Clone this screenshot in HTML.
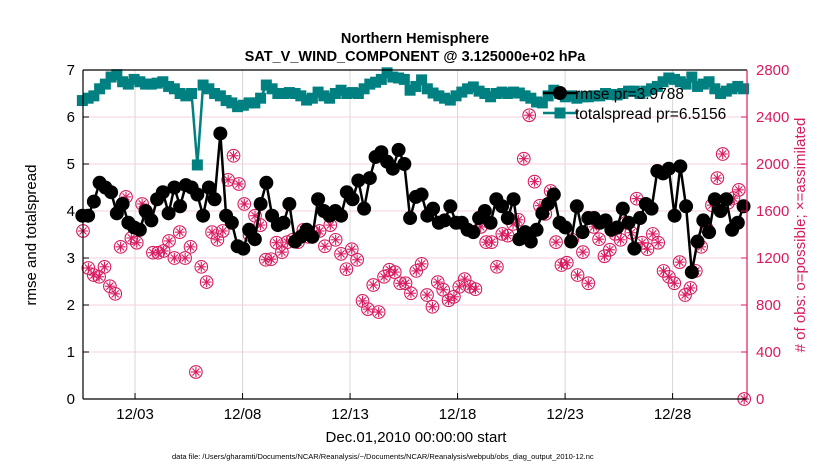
<!DOCTYPE html>
<html><head><meta charset="utf-8"><style>
body{margin:0;background:#fff;}
svg text{font-family:"Liberation Sans",sans-serif;}
</style></head><body>
<svg id="chart" width="830" height="470" viewBox="0 0 830 470" xmlns="http://www.w3.org/2000/svg">
<rect width="830" height="470" fill="#fff"/>
<g id="grid"></g><g id="series"></g><g id="axes"></g>
<text x="415" y="43" text-anchor="middle" font-size="14.5" font-weight="bold">Northern Hemisphere</text>
<text x="415" y="61" text-anchor="middle" font-size="14.5" font-weight="bold">SAT_V_WIND_COMPONENT @ 3.125000e+02 hPa</text>
<text x="416" y="442" text-anchor="middle" font-size="15">Dec.01,2010 00:00:00 start</text>
<text transform="translate(36,235) rotate(-90)" text-anchor="middle" font-size="15">rmse and totalspread</text>
<text transform="translate(805,235) rotate(-90)" text-anchor="middle" font-size="15" fill="#d81b60">#  of obs: o=possible; ×=assimilated</text>
<text x="172" y="459" font-size="7.5">data file: /Users/gharamti/Documents/NCAR/Reanalysis/~/Documents/NCAR/Reanalysis/webpub/obs_diag_output_2010-12.nc</text>
<g id="legend"></g>
</svg>
<script>
const xTickLabels=["12/03","12/08","12/13","12/18","12/23","12/28"];
const xTickDays=[2,7,12,17,22,27];
const yLeftTicks=[0,1,2,3,4,5,6,7];
const yRightTicks=[0,400,800,1200,1600,2000,2400,2800];
const rmse=[3.9,3.9,4.2,4.6,4.5,4.4,3.95,4.15,3.75,3.65,3.6,4.0,3.8,4.25,4.4,3.95,4.5,4.1,4.55,4.5,4.35,3.9,4.5,4.25,5.65,3.9,3.75,3.25,3.2,3.6,3.4,4.15,4.6,3.9,3.7,3.75,4.15,3.35,3.45,3.6,3.45,4.25,4.0,3.9,4.0,3.9,4.4,4.25,4.65,4.05,4.7,5.15,5.25,5.05,4.9,5.3,5.0,3.85,4.3,4.35,3.9,4.05,3.75,3.8,4.1,3.75,3.75,3.6,3.55,3.85,4.0,3.75,4.25,4.1,3.85,4.25,3.4,3.55,3.35,3.6,3.95,4.15,4.35,3.75,3.65,3.35,4.1,3.55,3.85,3.85,3.75,3.8,3.6,3.65,4.05,3.75,3.2,3.85,4.15,4.05,4.85,4.8,4.9,3.9,4.95,4.1,2.7,3.35,3.8,3.55,4.25,4.0,4.25,3.6,3.75,4.1];
const totalspread=[6.35,6.4,6.45,6.6,6.7,6.85,6.9,6.75,6.7,6.8,6.75,6.7,6.7,6.72,6.75,6.65,6.6,6.5,6.45,6.5,4.98,6.68,6.6,6.5,6.45,6.35,6.3,6.22,6.25,6.3,6.3,6.4,6.68,6.6,6.5,6.5,6.52,6.5,6.45,6.36,6.4,6.53,6.45,6.4,6.5,6.57,6.5,6.52,6.5,6.6,6.7,6.74,6.8,6.94,6.85,6.83,6.8,6.57,6.65,6.79,6.6,6.51,6.45,6.4,6.36,6.45,6.53,6.6,6.64,6.55,6.5,6.43,6.5,6.53,6.5,6.53,6.51,6.45,6.4,6.32,6.3,6.45,6.57,6.5,6.43,6.45,6.4,6.43,6.43,6.45,6.45,6.5,6.48,6.47,6.5,6.55,6.55,6.5,6.55,6.6,6.65,6.75,6.83,6.8,6.75,6.7,6.85,6.65,6.7,6.75,6.6,6.5,6.55,6.6,6.65,6.6];
const obsCount=[1430,1115,1055,1040,1125,960,895,1295,1720,1370,1330,1660,1575,1245,1245,1260,1345,1200,1420,1200,1295,230,1125,995,1420,1355,1430,1865,2070,1830,1660,1395,1560,1480,1185,1190,1330,1250,1335,1355,1335,1440,1380,1415,1430,1300,1480,1355,1235,1105,1275,1185,835,765,970,740,1040,1100,1080,985,985,900,1090,1150,885,785,995,930,840,870,955,1020,955,935,1465,1335,1335,1125,1405,1390,1490,1525,2045,2415,1850,1645,1575,1770,1335,1140,1160,1355,1055,1250,985,1465,1360,1215,1270,1405,1355,1500,1415,1705,1330,1275,1405,1330,1090,1040,985,1165,885,945,1090,1295,1455,1650,1880,2085,1670,1710,1780,0];

const NS="http://www.w3.org/2000/svg";
const L=83,R=747,T=70,B=399,DMIN=-0.42,DMAX=30.46;
const xs=d=>L+(d-DMIN)/(DMAX-DMIN)*(R-L);
const yl=v=>B-v/7*(B-T);
const yr=v=>B-v/2800*(B-T);
function mk(tag,attrs,parent){const e=document.createElementNS(NS,tag);for(const k in attrs)e.setAttribute(k,attrs[k]);parent.appendChild(e);return e;}
const grid=document.getElementById('grid'),ser=document.getElementById('series'),ax=document.getElementById('axes'),leg=document.getElementById('legend');
xTickDays.forEach((d,i)=>{
 const g=mk('line',{x1:xs(d),x2:xs(d),y1:T,y2:B,stroke:'#d8d8d8','stroke-width':1},grid);
 
 
 const t=mk('line',{x1:xs(d),x2:xs(d),y1:B,y2:B-6,stroke:'#000'},ax);
 
 
 const lb=mk('text',{x:xs(d),y:B+20,'text-anchor':'middle','font-size':15},ax);lb.textContent=xTickLabels[i];
 
 
});
yRightTicks.forEach(v=>{
 if(v>0&&v<2800){const g=mk('line',{x1:L,x2:R,y1:yr(v),y2:yr(v),stroke:'#f4cfe0','stroke-width':1},grid);
 
 }
 const t=mk('line',{x1:R,x2:R-6,y1:yr(v),y2:yr(v),stroke:'#d81b60'},ax);
 
 
 const lb=mk('text',{x:R+9,y:yr(v)+5,'font-size':15,fill:'#d81b60'},ax);lb.textContent=v;
 
 
});
yLeftTicks.forEach(v=>{
 const t=mk('line',{x1:L,x2:L+6,y1:yl(v),y2:yl(v),stroke:'#000'},ax);
 
 
 const lb=mk('text',{x:L-8,y:yl(v)+5,'font-size':15,'text-anchor':'end'},ax);lb.textContent=v;
 
 
});
const frame=[['x-axis-line',L,B,R,B,'#000'],['top-border',L,T,R,T,'#000'],['y-axis-left-line',L,T,L,B,'#000'],['y-axis-right-line',R,T,R,B,'#d81b60']];
frame.forEach(f=>{const e=mk('line',{x1:f[1],y1:f[2],x2:f[3],y2:f[4],stroke:f[5],'stroke-width':1.2},ax);
 
 });
const sStart=-0.45,sEnd=30.3;
const st=i=>sStart+i*(sEnd-sStart)/(rmse.length-1);
const ot=i=>DMIN+i*0.25;
obsCount.forEach((v,i)=>{
 const cx=xs(ot(i)),cy=yr(v);
 const g=mk('g',{stroke:'#d81b60','stroke-width':1.1,fill:'none'},ser);
 
 
 mk('circle',{cx:cx,cy:cy,r:6.3},g);
 mk('line',{x1:cx-5,x2:cx+5,y1:cy,y2:cy},g);
 mk('line',{x1:cx,x2:cx,y1:cy-5,y2:cy+5},g);
 mk('line',{x1:cx-3.5,x2:cx+3.5,y1:cy-3.5,y2:cy+3.5},g);
 mk('line',{x1:cx-3.5,x2:cx+3.5,y1:cy+3.5,y2:cy-3.5},g);
});
const sp=mk('polyline',{points:totalspread.map((v,i)=>xs(st(i))+','+yl(v)).join(' '),fill:'none',stroke:'#008080','stroke-width':2.5},ser);


totalspread.forEach((v,i)=>{const r=mk('rect',{x:xs(st(i))-5.5,y:yl(v)-5.5,width:11,height:11,fill:'#008080'},ser);
 
 });
const rl=mk('polyline',{points:rmse.map((v,i)=>xs(st(i))+','+yl(v)).join(' '),fill:'none',stroke:'#000','stroke-width':2.5},ser);


rmse.forEach((v,i)=>{const c=mk('circle',{cx:xs(st(i)),cy:yl(v),r:7,fill:'#000'},ser);
 
 });
// legend on top
const l1=mk('line',{x1:543,y1:93,x2:578,y2:93,stroke:'#000','stroke-width':2.5},leg);


const m1=mk('circle',{cx:560,cy:93,r:7,fill:'#000'},leg);


const t1=mk('text',{x:575,y:99,'font-size':15.5},leg);t1.textContent='rmse pr=3.9788';


const l2=mk('line',{x1:543,y1:113,x2:578,y2:113,stroke:'#008080','stroke-width':2.5},leg);


const m2=mk('rect',{x:554.5,y:107.5,width:11,height:11,fill:'#008080'},leg);


const t2=mk('text',{x:575,y:119,'font-size':15.5},leg);t2.textContent='totalspread pr=6.5156';


</script>
</body></html>
